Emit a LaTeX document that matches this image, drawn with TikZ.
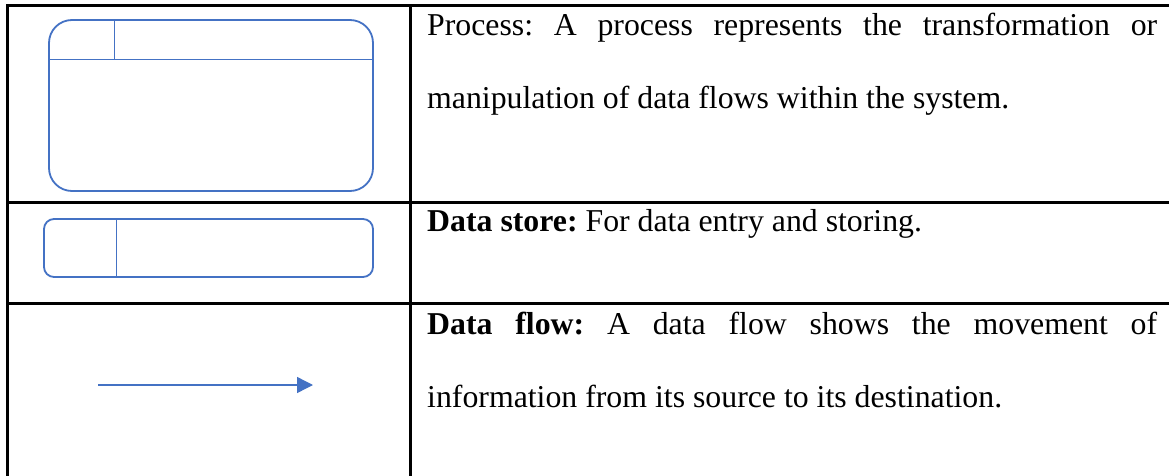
\documentclass[tikz,border=0pt]{standalone}
\usepackage{fontspec}
\setmainfont{Liberation Serif}
\usetikzlibrary{arrows.meta}
\definecolor{dfdblue}{HTML}{4472C4}
\begin{document}
\begin{tikzpicture}[x=1pt,y=-1pt,
  rule/.style={line width=3pt,draw=black},
  symbol/.style={draw=dfdblue,line width=1.8pt,inner sep=0pt},
  divider/.style={draw=dfdblue,line width=1.1pt},
  flowline/.style={draw=dfdblue,line width=1.4pt,-{Triangle[length=16pt,width=16pt]}},
  desc/.style={anchor=base west,inner sep=0pt,font=\fontsize{31.8}{38}\selectfont\frenchspacing},
]
\useasboundingbox (0,0) rectangle (1169,476);

% table rules
\draw[rule] (7,476) -- (7,6) -- (1169,6);
\draw[rule] (410,6) -- (410,476);
\draw[rule] (7,202) -- (1169,202);
\draw[rule] (7,303) -- (1169,303);

% process symbol
\node[symbol,rounded corners=23pt,minimum width=324pt,minimum height=171pt] (process) at (211,105.5) {};
\draw[divider] ([yshift=-40pt]process.north west) -- ([yshift=-40pt]process.north east);
\draw[divider] ([xshift=66pt]process.north west) -- ([xshift=66pt,yshift=-40pt]process.north west);

% data store symbol
\node[symbol,rounded corners=10pt,minimum width=329pt,minimum height=58pt] (store) at (208.5,248) {};
\draw[divider] ([xshift=73pt]store.north west) -- ([xshift=73pt]store.south west);

% data flow symbol
\coordinate (flowA) at (98,385);
\coordinate (flowB) at (313,385);
\draw[flowline] (flowA) -- (flowB);

% descriptions
\node[desc] (p1) at (427,36) {\makebox[730pt][s]{Process: A process represents the transformation or}};
\node[desc] (p2) at (427,109) {manipulation of data flows within the system.};
\node[desc] (ds) at (427,231) {\textbf{Data store:} For data entry and storing.};
\node[desc] (df1) at (427,334) {\makebox[730pt][s]{\textbf{Data flow:} A data flow shows the movement of}};
\node[desc] (df2) at (427,407) {information from its source to its destination.};
\end{tikzpicture}
\end{document}
